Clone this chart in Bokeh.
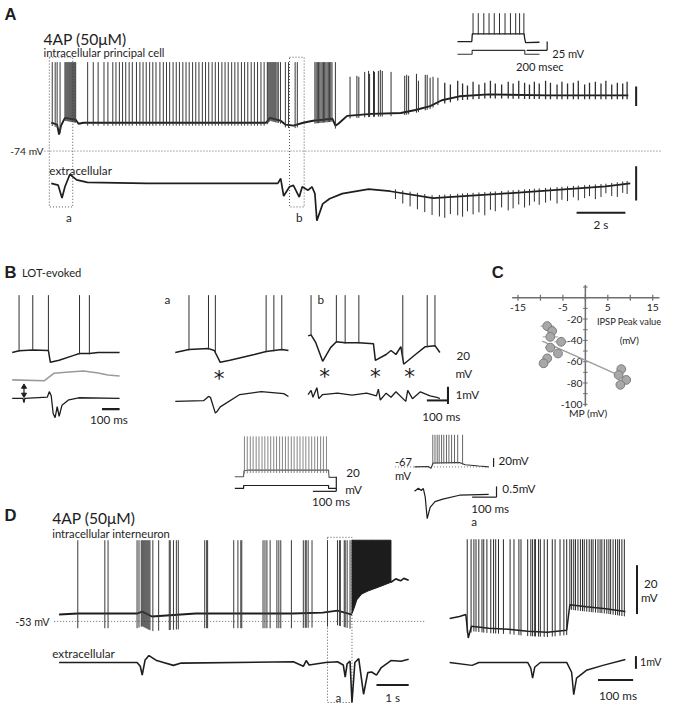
import numpy as np
from bokeh.plotting import figure
from bokeh.models import Range1d
from bokeh.embed import file_html
from bokeh.resources import INLINE
from bokeh.core.properties import value

# ======================= DATA =======================
# ---- Panel A : 4AP, intracellular principal cell (time s, potential mV)
A_base_t = [0, 0.24, 0.32, 0.4, 0.56, 1.0, 1.12, 1.32, 3.92, 8.8, 8.96, 9.4, 9.6, 9.92, 10.32,
            10.72, 11.52, 11.64, 11.76, 12.12, 13.12, 14.32, 14.92, 15.52, 16.0, 16.72, 17.92, 20.32, 23.64]
A_base_v = [-45, -47, -57, -48, -40, -42, -46, -45, -45, -45, -40, -43, -47, -48, -45,
            -43, -41, -48, -46, -38, -36, -35, -32, -28, -22, -18, -16, -17, -17]
A_spk_tall_t = [0.04, 0.16, 0.24, 0.36,
                0.56, 0.60, 0.64, 0.68, 0.72, 0.76, 0.80, 0.84, 0.88, 0.92, 0.96, 1.00,
                1.49, 1.72, 1.92, 2.16, 2.32, 2.52, 2.65, 2.79, 2.92, 3.05, 3.19, 3.32, 3.49, 3.63,
                3.76, 3.89, 4.03, 4.16, 4.29, 4.45, 4.59, 4.72, 4.85, 4.99, 5.12, 5.25, 5.39, 5.52,
                5.65, 5.79, 5.92, 6.05, 6.19, 6.32, 6.45, 6.59, 6.72, 6.85, 6.99, 7.12, 7.25, 7.39,
                7.52, 7.65, 7.79, 7.92, 8.05, 8.19, 8.32, 8.45, 8.59, 8.72,
                8.85, 8.88, 8.92, 8.96, 9.00, 9.04, 9.08, 9.12, 9.16, 9.20, 9.25, 9.30, 9.39,
                9.59, 9.72, 9.99, 10.08,
                10.80, 10.85, 10.90, 10.95, 11.00, 11.05, 11.10, 11.15, 11.20, 11.25, 11.30,
                11.35, 11.40, 11.45, 11.50, 11.64]
A_spk_tall_peak = 17
A_spk_mid_t = [12.24, 12.52, 12.60, 12.84, 13.00, 13.04, 13.20, 13.24, 13.40, 13.48, 13.56,
               13.92, 14.48, 14.56, 14.64, 14.96, 15.04, 15.32, 15.40, 15.52, 15.64, 15.84]
A_spk_mid_peak = [2, 3, 2, 7, 8, 5, 8, 7, 8, 9, 8, 7, 3, 4, 3, 5, -2, 4, 4, 1, 2, 1]
A_spk_small_t = [16.12, 16.35, 16.65, 16.85, 17.05, 17.28, 17.52, 17.76, 17.99, 18.19,
                 18.45, 18.72, 18.92, 19.15, 19.39, 19.59, 19.79, 19.99, 20.25, 20.45,
                 20.72, 20.92, 21.15, 21.39, 21.59, 21.85, 22.05, 22.29, 22.52, 22.72,
                 22.96, 23.19, 23.41, 23.59]
A_spk_small_peak = [-4, -6, -2, -5, -7, -3, -6, -4, -2, -5, -6, -3, -5, -2, -4, -6, -3, -5, -2, -4,
                    -6, -3, -5, -4, -2, -6, -4, -3, -5, -2, -6, -4, -5, -3]
# extracellular field (mV)
AE_t = [0, 0.28, 0.44, 0.56, 0.76, 1.04, 1.48, 3.92, 9.28, 9.4, 9.52, 9.76, 9.92, 10.16, 10.28,
        10.52, 10.68, 10.8, 10.88, 11.12, 11.4, 11.92, 13.0, 13.88, 15.64, 18.32, 22.72, 23.72]
AE_v = [0, -0.05, -0.43, -0.1, 0.26, 0.1, 0.03, 0.0, 0.0, 0.14, -0.37, -0.1, -0.06, -0.4, -0.1,
        -0.2, -0.1, -0.3, -1.09, -0.6, -0.45, -0.3, -0.17, -0.23, -0.43, -0.31, -0.09, 0.0]
AE_spk_t = [14.1, 14.4, 14.7, 15.0, 15.3, 15.6, 15.9] + A_spk_small_t
AE_spk_depth = [-0.20, -0.30, -0.35, -0.40, -0.45, -0.50, -0.55, -0.60, -0.50, -0.55,
                -0.60, -0.45, -0.55, -0.50, -0.60, -0.45, -0.50, -0.40, -0.50, -0.45,
                -0.35, -0.45, -0.40, -0.30, -0.40, -0.35, -0.30, -0.40, -0.30, -0.35,
                -0.25, -0.35, -0.30, -0.25, -0.35, -0.30, -0.20, -0.30, -0.35, -0.25, -0.30]
# inset: current-step firing (ms, mV / pA)
AI_t = [0, 140, 145, 650, 655, 665, 800]
AI_v = [-70, -70, -48, -48, -60, -73, -72]
AI_spk_t = [152, 203, 257, 308, 359, 410, 464, 517, 568, 606, 648]
AI_spk_peak = 10.6
AI_cur_t = [0, 143, 143, 657, 657, 800]
AI_cur = [0, 0, 100, 100, 0, 0]

# ---- Panel B : LOT-evoked (ms, mV)
BL_t = [0, 39, 117, 206, 217, 267, 350, 383, 439, 489, 611]
BL_v = [-60, -58, -57, -57.6, -71.8, -69.4, -63.5, -61.2, -61.2, -60, -60]
BL_spk = [39, 117, 206, 383, 439]
BG_t = [0, 183, 211, 239, 322, 406, 489, 544, 611]
BG_v = [0, -1, 3.5, 8, 9.4, 10.6, 8.2, 5.9, 4.7]
BE_t = [0, 61, 67, 72, 200, 211, 222, 233, 244, 256, 267, 283, 322, 378, 611]
BE_v = [0, 0, -0.3, 0, 0.1, 0.5, 0.2, -1.1, -1.4, -0.6, -1.3, -0.5, -0.1, 0.05, 0]
BA_t = [0, 78, 189, 222, 256, 311, 450, 517, 606, 644]
BA_v = [-60, -56.5, -55.3, -57.6, -71.8, -69.4, -62.4, -58.8, -56.5, -57.6]
BA_spk = [78, 189, 228, 517, 561, 606]
BAE_t = [0, 161, 189, 200, 228, 240, 256, 367, 489, 617, 644]
BAE_v = [0, 0.05, 0.36, 0.3, -0.86, -0.7, -0.4, 0.5, 0.71, 0.57, 0.36]
BB_t = [0, 17, 44, 83, 128, 161, 211, 289, 372, 383, 444, 472, 500, 528, 544, 611, 667, 722, 750]
BB_v = [-40, -38.8, -48.2, -70.6, -54.1, -47.1, -48.2, -48.2, -49.4, -69.4, -62.4, -57.6, -62.4,
        -53, -74.1, -62.4, -53, -51.8, -60]
BB_spk = [17, 161, 211, 289, 539, 678, 722]
BBE_t = [0, 17, 28, 50, 61, 83, 167, 250, 333, 389, 400, 411, 444, 472, 500, 556, 567, 594, 639, 694, 733, 750]
BBE_v = [0, 0.3, -0.2, 0.5, -0.3, 0, 0.1, -0.05, 0.1, -0.1, 0.4, -0.4, 0.1, -0.2, 0.2, -0.5, 0.3,
         -0.3, 0.2, -0.1, -0.2, -0.3]
B_spk_peak = 9
BA_star_t = [250]
BB_star_t = [94, 383, 578]

# ---- Panel C : IPSP peak value vs membrane potential
C_ipsp = [-8.5, -7.4, -7.8, -5.4, -7.8, -6.1, -8.5, -9.3, 8.0, 7.4, 9.1, 7.8]
C_mp = [-26.6, -31.2, -36.7, -41.3, -46.8, -52.3, -56.9, -61.5, -67.0, -72.5, -77.1, -81.7]
C_err = [1.5, 0, 1.7, 1.5, 1.2, 0, 0, 1.0, 0.8, 1.0, 1.0, 1.0]
C_xticks = [-15, -10, -5, 0, 5, 10, 15]
C_xlabels = [-15, -5, 5, 15]
C_yticks = [-100, -90, -80, -70, -60, -50, -40, -30, -20, -10, 0, 10]
C_ylabels = [-20, -40, -60, -80, -100]

# ---- middle insets
ML_t = [0, 37, 39, 60, 400, 402, 433]
ML_v = [-65, -65, -57, -56, -56, -66, -66]
ML_spk = [41, 53, 66, 78, 91, 103, 116, 128, 141, 153, 166, 178, 191, 203, 216, 228, 241, 253,
          266, 278, 291, 303, 316, 328, 341, 353, 366, 378, 391]
ML_peak = -10
ML_cur_t = [0, 37.5, 37.5, 400, 400, 433]
ML_cur = [0, 0, 100, 100, 0, 0]
MR_t = [0, 56, 68, 76, 184, 208, 264, 304]
MR_v = [-67, -66, -70, -58, -57, -62, -65, -67]
MR_spk = [75, 84, 93, 101, 111, 120, 131, 141, 152, 164, 177, 197]
MR_peak = 6
MRE_t = [0, 16, 28, 36, 44, 52, 64, 84, 116, 184, 304]
MRE_v = [0, 0.14, 0.04, 0.14, -0.27, -1.27, -0.75, -0.48, -0.36, -0.18, -0.14]

# ---- Panel D : 4AP, intracellular interneuron (s / ms, mV)
DL_t = [0, 0.58, 2.42, 2.58, 2.88, 4.24, 7.27, 8.18, 8.64, 9.09]
DL_v = [-50.2, -49.8, -49.8, -49, -51, -49.8, -49.8, -49.4, -48.6, -50.2]
DL_spk = [0.58, 1.42, 1.52, 2.42, 2.48, 2.55, 2.58, 2.61, 2.64, 2.67, 2.7, 2.73, 2.76, 2.79, 2.82,
          2.91, 3.09, 3.42, 3.45, 3.55, 3.64, 3.7, 4.52, 4.58, 4.61, 5.42, 5.55, 5.64, 5.67, 6.33,
          6.39, 6.45, 6.55, 6.76, 6.82, 6.88, 7.21, 7.58, 7.64, 7.67, 7.73, 7.85, 8.33, 8.64, 8.7,
          8.73, 8.85, 8.88, 8.94, 9.03]
D_peak = -19.8
DB_t = [9.09, 9.15, 9.24, 9.39, 9.6, 9.91, 10.3]
DB_low = [-49.8, -47.8, -44.2, -41.8, -40.5, -39, -37]
DT_t = [10.3, 10.45, 10.6, 10.7, 10.85]
DT_v = [-37, -35.6, -36.4, -35.4, -36.2]
DE_t = [0, 2.42, 2.52, 2.58, 2.67, 2.79, 3.03, 3.24, 3.55, 3.79, 7.27, 7.58, 7.67, 7.76, 8.27, 8.64,
        8.82, 8.88, 8.94, 9.03, 9.09, 9.18, 9.3, 9.45, 9.58, 9.7, 9.85, 10.0, 10.3, 10.61, 10.85]
DE_v = [0, 0, -0.3, -1.0, 0.2, 0.54, 0.15, 0, -0.23, -0.05, 0.05, -0.3, 0.15, -0.2, 0, 0.05,
        -0.2, -1.15, -0.1, 0.1, -3.15, 0, 0.3, -2.5, -0.8, -0.75, -1.0, -0.4, 0.15, 0.1, 0.25]
DR_t = [0, 28, 46, 53, 62, 111, 167, 222, 278, 333, 342, 389, 444, 500]
DR_v = [-51.8, -51, -50.2, -59.8, -55, -55.8, -56.2, -57, -57.4, -56.6, -46.2, -47, -47.8, -49]
DR_spk = [50, 61, 69, 75, 83, 92, 97, 106, 117, 125, 131, 139, 153, 172, 183, 197, 203, 222, 231,
          236, 242, 244, 253, 258, 269, 278, 292, 300, 314, 325, 333, 342, 347, 353, 358, 365, 372,
          378, 383, 390, 397, 403, 408, 415, 422, 428, 433, 440, 447, 453, 458, 465, 472, 478, 483,
          490, 497]
DR_peak = -19.4
DRE_t = [0, 64, 83, 222, 231, 236, 242, 258, 333, 347, 353, 361, 389, 436, 500]
DRE_v = [0, -0.23, 0, 0, -0.46, -1.23, -0.38, 0, 0, -0.77, -2.54, -1.23, -0.62, -0.23, 0.23]

# ======================= LAYOUT =======================
W, H = 662, 704
S = W / 678.0
INK = "#1e1e1e"
SPK = "#2e2e2e"
FONT = "Lato"

p = figure(width=W, height=H, x_range=Range1d(0, 678), y_range=Range1d(720, 0),
           output_backend="svg", toolbar_location=None, min_border=0)
p.axis.visible = False
p.grid.visible = False
p.outline_line_color = None
p.background_fill_color = "white"


def mapper(x0, sx, y0, sy):
    return (lambda t: x0 + sx * np.asarray(t, float),
            lambda v: y0 - sy * np.asarray(v, float))


def tx(x, y, s, size, align="left", bold=False, font=FONT, color=INK, base="middle"):
    p.text(x=[x], y=[y], text=[s], text_font=value(font), text_font_size=f"{size * S:.1f}px",
           text_align=align, text_baseline=base, text_font_style="bold" if bold else "normal",
           text_color=color)


def ln(xs, ys, color=INK, w=1.3, dash="solid", alpha=1.0):
    p.line(list(np.atleast_1d(xs)), list(np.atleast_1d(ys)), line_color=color, line_width=w,
           line_dash=dash, line_alpha=alpha)


def seg(x0, y0, x1, y1, color=INK, w=1.6):
    p.segment(x0=[x0], y0=[y0], x1=[x1], y1=[y1], line_color=color, line_width=w)


def spikes(ts, peaks, bt, bv, X, Y, trough=2.0, color=SPK, w=1.0, alpha=1.0):
    ts = np.asarray(ts, float)
    base = np.interp(ts, bt, bv)
    pk = np.broadcast_to(np.asarray(peaks, float), ts.shape)
    xs = X(ts)
    p.segment(x0=list(xs), y0=list(Y(base - trough)), x1=list(xs), y1=list(Y(pk)),
              line_color=color, line_width=w, line_alpha=alpha)


def box(x0, x1, y0, y1):
    xs = [x0, x1, x1, x0, x0]
    ys = [y0, y0, y1, y1, y0]
    ln(xs, ys, color="#555555", w=1.0, dash="1 2")


def star(x, y):
    tx(x, y + 5, "*", 22, align="center", font="DejaVu Sans")


# ---------------- Panel A ----------------
AX, AY = mapper(52, 25, 80, 1.0)
_, AEY = mapper(52, 25, 187, 35)
tx(4, 14, "A", 17, bold=True, font="Liberation Sans")
tx(44, 39, "4AP (50μM)", 16)
tx(44, 53, "intracellular principal cell", 11.5)
ln([45, 676], [float(AY(-74))] * 2, color="#666666", w=1.0, dash="1 2")
tx(10, float(AY(-74)), "-74 mV", 10.5)
box(float(AX(-0.08)), float(AX(0.88)), float(AY(22)), float(AEY(-0.69)))
box(float(AX(9.76)), float(AX(10.36)), float(AY(22)), float(AEY(-0.69)))
tx(float(AX(0.72)), 221, "a", 12, align="center")
tx(float(AX(10.16)), 221, "b", 12, align="center")

ln(AX(A_base_t), AY(A_base_v), w=1.9)
spikes(A_spk_tall_t, A_spk_tall_peak, A_base_t, A_base_v, AX, AY, trough=3, color="#3a3a3a")
spikes(A_spk_mid_t, A_spk_mid_peak, A_base_t, A_base_v, AX, AY, trough=3)
spikes(A_spk_small_t, A_spk_small_peak, A_base_t, A_base_v, AX, AY, trough=4, w=1.3)

tx(50, 173, "extracellular", 12)
ln(AX(AE_t), AEY(AE_v), w=1.7)
ae_b = np.interp(AE_spk_t, AE_t, AE_v)
p.segment(x0=list(AX(AE_spk_t)), y0=list(AEY(ae_b + 0.08)), x1=list(AX(AE_spk_t)),
          y1=list(AEY(ae_b + np.asarray(AE_spk_depth))), line_color=SPK, line_width=1.0)

# scale bars A
seg(float(AX(23.96)), float(AY(-28)), float(AX(23.96)), float(AY(-8)), w=2)
seg(float(AX(23.96)), float(AEY(-0.5)), float(AX(23.96)), float(AEY(0.5)), w=2)
seg(float(AX(21.52)), float(AEY(-0.86)), float(AX(23.52)), float(AEY(-0.86)), w=2)
tx(float(AX(22.52)), 229, "2 s", 12, align="center")

# inset A
IX, IY = mapper(468, 0.105, 16.8, 0.36)
_, ICY = mapper(468, 0.105, 55, 0.04)
ln(IX(AI_t), IY(AI_v), w=1.3)
spikes(AI_spk_t, AI_spk_peak, AI_t, AI_v, IX, IY, trough=2)
ln(IX(AI_cur_t), ICY(AI_cur), color="#333333", w=1.1)
seg(float(IX(675)), float(IY(-95)), float(IX(875)), float(IY(-95)), w=1.2)
seg(float(IX(875)), float(IY(-95)), float(IX(875)), float(IY(-70)), w=1.2)
tx(565, 54, "25 mV", 11.5)
tx(528, 67, "200 msec", 11.5)

# ---------------- Panel B ----------------
tx(4, 278, "B", 17, bold=True, font="Liberation Sans")
tx(22, 278, "LOT-evoked", 11.5)
BLX, BVY = mapper(12, 0.18, 309, 0.85)
_, BGY = mapper(12, 0.18, 388, 0.85)
_, BLEY = mapper(12, 0.18, 407, 14)
ln(BLX(BL_t), BVY(BL_v), w=1.5)
spikes(BL_spk, B_spk_peak, BL_t, BL_v, BLX, BVY, trough=1)
ln(BLX(BG_t), BGY(BG_v), color="#9a9a9a", w=1.6)
ln(BLX(BE_t), BLEY(BE_v), w=1.3)
# stimulus double arrow
ax_ = float(BLX(67))
seg(ax_, float(BLEY(0.28)), ax_, float(BLEY(0.85)), w=1.2)
p.scatter(x=[ax_, ax_], y=[float(BLEY(0.85)), float(BLEY(0.28))], marker="triangle",
          angle=[0, np.pi], size=5, fill_color=INK, line_color=INK)
seg(float(BLX(511)), 418, float(BLX(611)), 418, w=2.2)
tx(float(BLX(550)), 428, "100 ms", 12, align="center")

BAX, _ = mapper(179, 0.18, 309, 0.85)
_, BAEY = mapper(179, 0.18, 410, 14)
tx(171, 305, "a", 12, align="center")
ln(BAX(BA_t), BVY(BA_v), w=1.5)
spikes(BA_spk, B_spk_peak, BA_t, BA_v, BAX, BVY, trough=1)
ln(BAX(BAE_t), BAEY(BAE_v), w=1.3)
for t in BA_star_t:
    star(float(BAX(t)), float(BVY(-86)))

BBX, _ = mapper(315, 0.18, 309, 0.85)
_, BBEY = mapper(315, 0.18, 403, 14)
tx(328, 305, "b", 12, align="center")
ln(BBX(BB_t), BVY(BB_v), w=1.5)
spikes(BB_spk, B_spk_peak, BB_t, BB_v, BBX, BVY, trough=1)
ln(BBX(BBE_t), BBEY(BBE_v), w=1.3)
for t in BB_star_t:
    star(float(BBX(t)), float(BVY(-83)))
# scale bars B
xb = float(BBX(796))
seg(xb, float(BVY(-122)), xb, float(BVY(-102)), w=2)
seg(xb, float(BBEY(-0.43)), xb, float(BBEY(0.57)), w=2)
seg(float(BBX(676)), float(BBEY(-0.43)), xb, float(BBEY(-0.43)), w=2)
tx(467, 364, "20", 12)
tx(466, 381, "mV", 12)
tx(466, 402, "1mV", 12)
tx(432, 425, "100 ms", 12)

# ---------------- Panel C ----------------
CX, CY = mapper(599, 4.6, 304, 1.09)
tx(503, 278, "C", 17, bold=True, font="Liberation Sans")
AXC = "#6e6e6e"
seg(float(CX(-16.3)), float(CY(0)), float(CX(16.5)), float(CY(0)), color=AXC, w=1.5)
seg(float(CX(0)), float(CY(12)), float(CX(0)), float(CY(-102)), color=AXC, w=1.5)
xt = np.asarray(C_xticks, float)
p.segment(x0=list(CX(xt)), y0=list(CY(np.full_like(xt, 2.8))), x1=list(CX(xt)),
          y1=list(CY(np.full_like(xt, -2.8))), line_color=AXC, line_width=1.2)
yt = np.asarray(C_yticks, float)
p.segment(x0=list(CX(np.full_like(yt, -0.5))), y0=list(CY(yt)), x1=list(CX(np.full_like(yt, 0.5))),
          y1=list(CY(yt)), line_color=AXC, line_width=1.0)
for v in C_xlabels:
    tx(float(CX(v)), float(CY(0)) + 10, str(v), 10.5, align="center")
for v in C_ylabels:
    tx(float(CX(0)) - 3, float(CY(v)), str(v), 10.5, align="right")
tx(644, 328, "IPSP Peak value", 9.5, align="center")
tx(644, 347, "(mV)", 10, align="center")
tx(float(CX(0)) + 3, 422, "MP (mV)", 10.5, align="center")
ci = np.asarray(C_ipsp, float)
ce = np.asarray(C_err, float)
cm = np.asarray(C_mp, float)
p.segment(x0=list(CX(ci - ce)), y0=list(CY(cm)), x1=list(CX(ci + ce)), y1=list(CY(cm)),
          line_color="#b0b0b0", line_width=1.2)
slope, icpt = np.polyfit(ci, cm, 1)
fx = np.array([-9.6, 7.8])
ln(CX(fx), CY(icpt + slope * fx), color="#9c9c9c", w=1.3)
p.scatter(x=list(CX(ci)), y=list(CY(cm)), size=9 * S, fill_color="#a8a8a8",
          line_color="#7c7c7c", line_width=1)

# ---------------- middle insets ----------------
MLX, MLY = mapper(240, 0.24, 438.25, 0.75)
_, MLCY = mapper(240, 0.24, 499, 0.03)
ln(MLX(ML_t), MLY(ML_v), color="#555555", w=1.1)
spikes(ML_spk, ML_peak, ML_t, ML_v, MLX, MLY, trough=4, color="#777777", w=0.9)
ln(MLX(ML_cur_t), MLCY(ML_cur), w=1.2)
seg(float(MLX(433)), float(MLY(-85)), float(MLX(433)), float(MLY(-65)), w=1.2)
seg(float(MLX(333)), float(MLY(-85)), float(MLX(433)), float(MLY(-85)), w=1.2)
tx(354, 483, "20", 12)
tx(353, 500, "mV", 12)
tx(319, 512, "100 ms", 12)

MRX, MRY = mapper(424, 0.25, 446.85, 0.45)
_, MREY = mapper(424, 0.25, 502, 22)
ln([404, 500], [float(MRY(-67))] * 2, color="#777777", w=1.0, dash="1 2")
tx(404, 472, "-67", 11.5)
tx(404, 486, "mV", 11.5)
ln(MRX(MR_t), MRY(MR_v), color="#333333", w=1.1)
spikes(MR_spk, MR_peak, MR_t, MR_v, MRX, MRY, trough=2, color="#555555", w=0.9)
ln(MRX(MRE_t), MREY(MRE_v), w=1.2)
seg(float(MRX(324)), float(MRY(-67)), float(MRX(324)), float(MRY(-47)), w=1.2)
seg(float(MRX(336)), float(MREY(-0.27)), float(MRX(336)), float(MREY(0.23)), w=1.2)
seg(float(MRX(236)), float(MREY(-0.27)), float(MRX(336)), float(MREY(-0.27)), w=1.2)
tx(510, 470, "20mV", 12)
tx(514, 499, "0.5mV", 12)
tx(482, 519, "100 ms", 12)
tx(482, 532, "a", 12)

# ---------------- Panel D ----------------
DX, DY = mapper(60, 33, 502.5, 2.5)
_, DEY = mapper(60, 33, 677, 13)
tx(4, 527, "D", 17, bold=True, font="Liberation Sans")
tx(53, 529, "4AP (50μM)", 16)
tx(53, 545, "intracellular interneuron", 11.5)
ln([55, 435], [float(DY(-53))] * 2, color="#666666", w=1.0, dash="1 2")
tx(15, float(DY(-53)), "-53 mV", 11)
box(float(DX(8.33)), float(DX(9.09)), float(DY(-18.6)), float(DEY(-3.15)))
tx(343, 712, "a", 12)

ln(DX(DL_t), DY(DL_v), w=1.9)
spikes(DL_spk, D_peak, DL_t, DL_v, DX, DY, trough=6, color="#3a3a3a", w=1.0)
bt = np.asarray(DB_t, float)
p.patch(x=list(DX(bt)) + list(DX(bt[::-1])),
        y=list(DY(np.full_like(bt, D_peak))) + list(DY(np.asarray(DB_low, float)[::-1])),
        fill_color="#1c1c1c", line_color="#1c1c1c", line_width=1)
ln(DX(DT_t), DY(DT_v), w=1.7)
tx(53, 667, "extracellular", 12)
ln(DX(DE_t), DEY(DE_v), w=1.6)
seg(float(DX(9.85)), float(DEY(-1.77)), float(DX(10.85)), float(DEY(-1.77)), w=2)
tx(float(DX(10.35)), 712, "1 s", 12, align="center")

DRX, _ = mapper(460, 0.36, 502.5, 2.5)
ln(DRX(DR_t), DY(DR_v), w=1.5)
spikes(DR_spk, DR_peak, DR_t, DR_v, DRX, DY, trough=2, color="#2a2a2a", w=1.0)
ln(DRX(DRE_t), DEY(DRE_v), w=1.5)
seg(float(DRX(533)), float(DY(-50)), float(DRX(533)), float(DY(-30)), w=2)
seg(float(DRX(530)), float(DEY(-0.5)), float(DRX(530)), float(DEY(0.5)), w=2)
seg(float(DRX(422)), float(DEY(-1.38)), float(DRX(522)), float(DEY(-1.38)), w=2)
tx(659, 597, "20", 12)
tx(656, 610, "mV", 12)
tx(655, 676, "1mV", 11)
tx(613, 710, "100 ms", 12)

open("out.html", "w").write(file_html(p, INLINE))
